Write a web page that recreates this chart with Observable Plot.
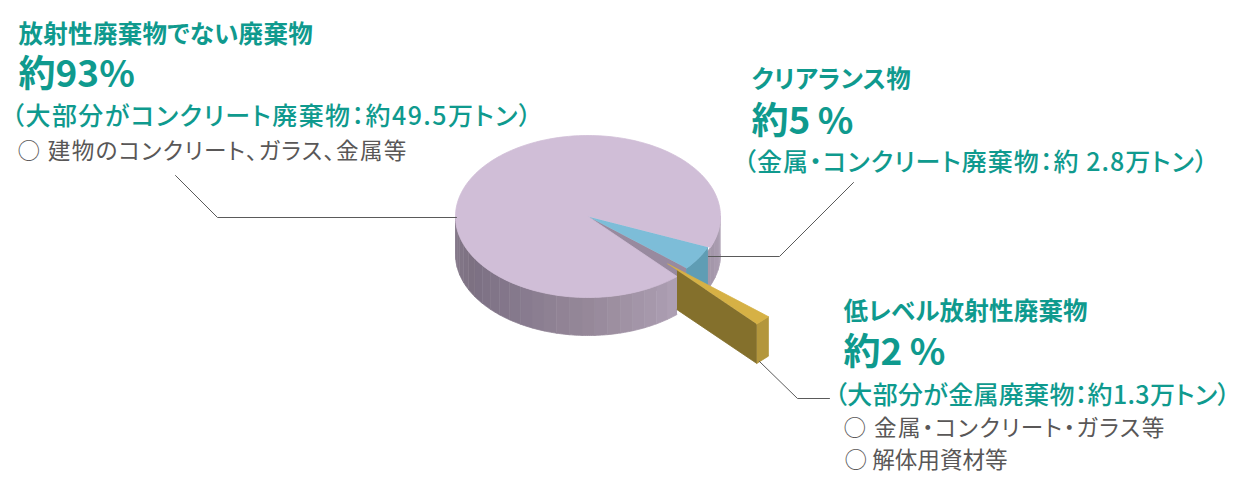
<!DOCTYPE html>
<html lang="ja"><head><meta charset="utf-8">
<script src="https://cdn.jsdelivr.net/npm/d3@7"></script>
<script src="https://cdn.jsdelivr.net/npm/@observablehq/plot@0.6"></script>
<style>
html,body{margin:0;padding:0;background:#fff}
svg{display:block}
svg text{font-feature-settings:"palt"}
</style></head><body><div id="chart"></div>
<script>
// ---- data ----
const categories = ["クリアランス物", "低レベル放射性廃棄物", "放射性廃棄物でない廃棄物"];
const shares = [5, 2, 93];
const sliceTopColors = ["#7dbdd8", "#d6b145", "#d0bed7"];
const titles = ["放射性廃棄物でない廃棄物", "クリアランス物", "低レベル放射性廃棄物"];
const percents = ["約93%", "約5\u2009%", "約2\u2009%"];
const details = ["（大部分がコンクリート廃棄物：約49.5万トン）", "（金属・コンクリート廃棄物：約 2.8万トン）", "（大部分が金属廃棄物：約1.3万トン）"];
const notes = ["○ 建物のコンクリート、ガラス、金属等", "○ 金属・コンクリート・ガラス等", "○ 解体用資材等"];

// ---- pie geometry ----
const W = 1240, H = 486, cx = 587.5, cy = 216, rx = 132.5, ry = 81, depth = 38, goldDepth = 39.5;
const rad = Math.PI / 180, startAngle = 22.6 * rad;
const arcs = d3.pie().sort(null).value(d => d).startAngle(startAngle).endAngle(startAngle + 2 * Math.PI)(shares);
const [blue, gold, main] = arcs;
const pt = (t, r = 1, ox = 0, oy = 0, dz = 0) => ({x: cx + ox + rx * r * Math.cos(t), y: cy + oy + ry * r * Math.sin(t) + dz});
const steps = (a, b, n) => d3.range(n + 1).map(i => a + (b - a) * i / n);

const polys = [];
let pid = 0;
function poly(fill, points) { pid++; points.forEach(p => polys.push({x: p.x, y: p.y, id: pid, fill})); }
function sector(fill, a, b, r = 1, ox = 0, oy = 0) {
  const n = Math.max(2, Math.ceil((b - a) / (1.5 * rad)));
  poly(fill, [{x: cx + ox, y: cy + oy}, ...steps(a, b, n).map(t => pt(t, r, ox, oy))]);
}
function wall(fill, a, b, r = 1) {
  const ts = steps(a, b, 6);
  poly(fill, [...ts.map(t => pt(t, r)), ...ts.slice().reverse().map(t => pt(t, r, 0, 0, depth))]);
}
const shadeStops = d3.scaleLinear().domain([0, 22, 50, 90, 130, 150, 180])
  .range(["#b0a3b6", "#a396a9", "#ad9fb3", "#968899", "#82768a", "#7c7082", "#877b8c"]).clamp(true);

// purple wall behind the blue slice (right part, running a little behind it)
const strip = 5.6 * rad, behind = blue.startAngle + 4 * rad;
for (let a = 0; a < behind - 1e-6; a += strip) {
  const b = Math.min(a + strip, behind);
  wall(shadeStops((a + b) / 2 / rad), a, b);
}
// blue slice cut face, wall, top
const bEnd = pt(blue.endAngle, .98);
poly("#988a9f", [{x: cx, y: cy}, bEnd, {x: bEnd.x, y: bEnd.y + depth}, {x: cx, y: cy + depth}]);
wall("#5f9db4", blue.startAngle, blue.endAngle, .98);
sector(sliceTopColors[0], blue.startAngle, blue.endAngle, .98);
// main slice wall and top
for (let a = main.startAngle; a < Math.PI - 1e-6; a += strip) {
  const b = Math.min(a + strip, Math.PI);
  wall(shadeStops((a + b) / 2 / rad), a, b);
}
sector(sliceTopColors[2], main.startAngle, main.endAngle);
// exploded gold slice
const goldMid = (gold.startAngle + gold.endAngle) / 2;
const ox = .84 * rx * Math.cos(goldMid), oy = .84 * ry * Math.sin(goldMid);
const tip = {x: cx + ox, y: cy + oy}, A = pt(gold.startAngle, 1, ox, oy), B = pt(gold.endAngle, 1, ox, oy);
const rimEnd = pt(main.startAngle);
const u = (rimEnd.x - tip.x) / (B.x - tip.x);
const Q = {x: rimEnd.x, y: tip.y + u * (B.y - tip.y)};
const drop = p => ({x: p.x, y: p.y + goldDepth});
poly("#84702c", [Q, B, drop(B), drop(Q)]);
poly("#b3963c", [B, A, drop(A), drop(B)]);
poly(sliceTopColors[1], [tip, A, B]);

// ---- leader lines ----
const leaderStroke = "#5a5a5a";
const leaders = [
  {id: 1, x: 175, y: 175}, {id: 1, x: 217, y: 217}, {id: 1, x: 456, y: 217},
  {id: 2, x: 708, y: 256}, {id: 2, x: 779, y: 256}, {id: 2, x: 853, y: 182},
  {id: 3, x: 759, y: 361}, {id: 3, x: 797, y: 398}, {id: 3, x: 829, y: 398}
];

// ---- text layout ----
const teal = "#0f9a8e", grey = "#595757", font = "'Noto Sans CJK JP'";
const rows = (texts, xs, ys) => texts.map((text, i) => ({text, x: xs[i], y: ys[i]}));
const textMark = (data, size, weight, fill) => Plot.text(data, {
  x: "x", y: "y", text: "text", textAnchor: "start", lineAnchor: "middle",
  fontSize: size, fontWeight: weight, fill, fontFamily: font
});
const tracking = new Map([
  [titles[0], .3], [titles[1], .25], [titles[2], .2],
  [details[0], 1.45], [details[1], 1.05], [details[2], .33],
  [notes[0], 1.3], [notes[1], 1.45]
]);

const plot = Plot.plot({
  width: W, height: H, margin: 0,
  x: {type: "linear", domain: [0, W], range: [0, W], axis: null},
  y: {type: "linear", domain: [0, H], range: [0, H], axis: null},
  color: {type: "identity"},
  style: {background: "#fff"},
  marks: [
    Plot.line(polys, {x: "x", y: "y", z: "id", fill: "fill", stroke: "fill", strokeWidth: .8, curve: "linear"}),
    Plot.line(leaders, {x: "x", y: "y", z: "id", stroke: leaderStroke, strokeWidth: 1, curve: "linear"}),
    textMark(rows(titles, [18, 751, 843], [34.5, 79.5, 311.5]), 24.5, 700, teal),
    textMark(rows(percents, [18, 751, 843], [75, 122, 353]), 37, 700, teal),
    textMark(rows(details, [11, 743, 834], [116, 162, 395.5]), 25, 500, teal),
    textMark(rows(notes, [17, 843, 844], [151, 428, 460]), 22.6, 400, grey)
  ]
});
d3.select(plot).selectAll("text").each(function () {
  const s = tracking.get(this.textContent);
  if (s) this.setAttribute("letter-spacing", s);
});
document.getElementById("chart").append(plot);
</script></body></html>
